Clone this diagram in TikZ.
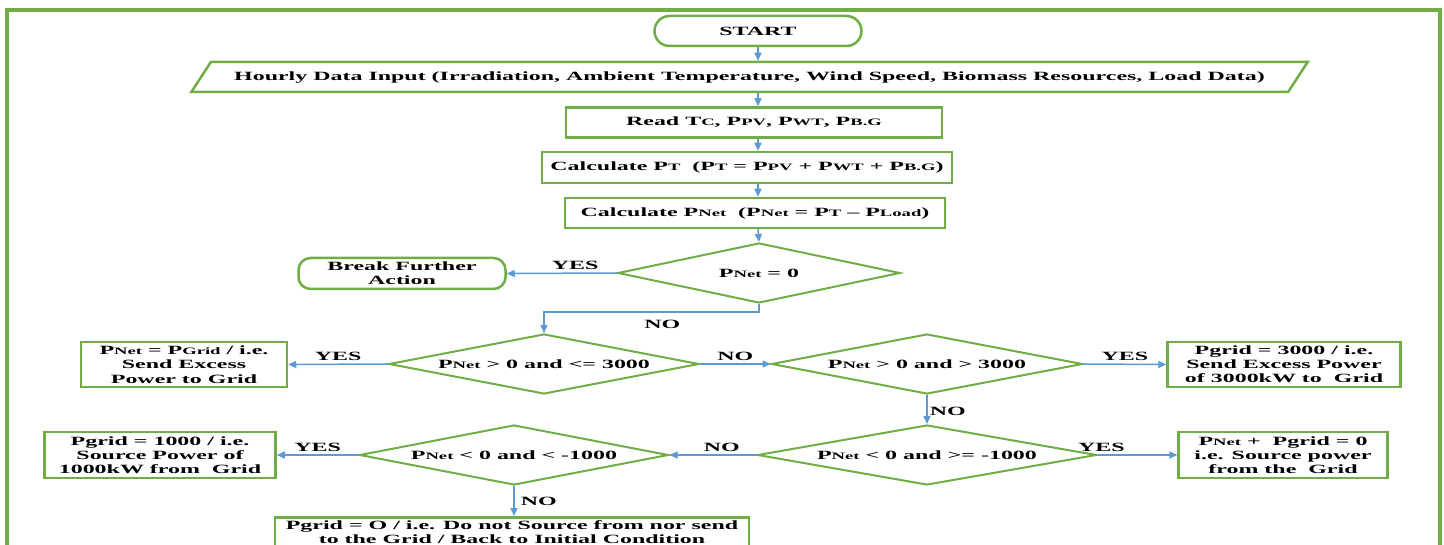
\documentclass[tikz,border=0pt]{standalone}
\usepackage{fontspec}
\setmainfont[FakeStretch=1.9]{Liberation Serif}
\usetikzlibrary{shapes.geometric,arrows.meta}
\definecolor{gr}{RGB}{112,173,71}
\definecolor{bl}{RGB}{91,155,213}
\newcommand\sml[1]{{\fontsize{9.8}{10}\selectfont #1}}
\tikzset{
  every node/.style={font=\fontsize{12.6}{14.2}\selectfont\bfseries, align=center},
  box/.style={draw=gr, line width=2.5pt, rectangle, inner sep=0pt},
  term/.style={draw=gr, line width=2.5pt, rectangle, rounded corners=15pt, inner sep=0pt},
  dia/.style={draw=gr, line width=2pt, diamond, inner sep=0pt},
  arr/.style={draw=bl, line width=1.5pt, -{Triangle[length=8pt,width=7pt]}},
  lbl/.style={inner sep=0pt}
}
\begin{document}
\begin{tikzpicture}[x=1pt,y=-1pt]
\path[use as bounding box, clip] (0,0) rectangle (1444,545);
\draw[gr, line width=3.5pt] (7,10) rectangle (1440,570);
\coordinate (col) at (758,0);
\node[term, minimum width=207, minimum height=30] (start) at (758,31) {START};
\node[draw=gr, line width=2.5pt, trapezium, trapezium stretches=true, trapezium left angle=31.5, trapezium right angle=148.5, minimum width=1123, minimum height=30, inner sep=0pt] (inp) at (749.5,77) {Hourly Data Input (Irradiation, Ambient Temperature, Wind Speed, Biomass Resources, Load Data)};
\node[box, minimum width=376, minimum height=30] (read) at (754,122.5) {Read T\sml{C}, P\sml{PV}, P\sml{WT}, P\sml{B.G}};
\node[box, minimum width=410, minimum height=31] (calcT) at (747,167.5) {Calculate P\sml{T}~~(P\sml{T} = P\sml{PV} + P\sml{WT} + P\sml{B.G})};
\node[box, minimum width=380, minimum height=30] (calcN) at (755,213) {Calculate P\sml{Net}~~(P\sml{Net} = P\sml{T} -- P\sml{Load})};
\node[dia, minimum width=282, minimum height=60, label=center:{P\sml{Net} = 0}] (d1) at (759,273) {};
\node[term, rounded corners=12pt, minimum width=207, minimum height=31] (brk) at (402,273.5) {Break Further\\Action};
\node[dia, minimum width=310, minimum height=60, label=center:{P\sml{Net} > 0 and <= 3000}] (d2) at (544,364) {};
\node[box, minimum width=206, minimum height=45] (r2) at (184,364.5) {P\sml{Net} = P\sml{Grid} / i.e.\\Send Excess\\Power to Grid};
\node[dia, minimum width=311, minimum height=60, label=center:{P\sml{Net} > 0 and > 3000}] (d3) at (927,364) {};
\node[box, minimum width=233, minimum height=45] (r3) at (1284,364.5) {Pgrid = 3000 / i.e.\\Send Excess Power\\of 3000kW to~~Grid};
\node[dia, minimum width=339, minimum height=60, label=center:{P\sml{Net} < 0 and >= -1000}] (d4) at (927,455) {};
\node[box, minimum width=209, minimum height=46] (r4) at (1283,455) {P\sml{Net} + ~Pgrid = 0\\i.e. Source power\\from the~~Grid};
\node[dia, minimum width=309, minimum height=60, label=center:{P\sml{Net} < 0 and < -1000}] (d5) at (514,455) {};
\node[box, minimum width=231, minimum height=46] (r5) at (160,455) {Pgrid = 1000 / i.e.\\Source Power of\\1000kW from~~Grid};
\node[box, minimum width=474, minimum height=30, anchor=north, inner ysep=2pt] (fin) at (512,516) {Pgrid = O / i.e. Do not Source from nor send\\to the Grid / Back to Initial Condition};

\draw[arr] (start.south -| col) -- (inp.north -| col);
\draw[arr] (inp.south -| col) -- (read.north -| col);
\draw[arr] (read.south -| col) -- (calcT.north -| col);
\draw[arr] (calcT.south -| col) -- (calcN.north -| col);
\draw[arr] (calcN.south -| col) -- (d1.north);
\draw[arr] (d1.west) -- node[lbl, above=3pt, pos=0.38] (yes1) {YES} (brk.east);
\draw[arr] (d1.south) -- (d1.south |- 0,312) -- node[lbl, below=7pt, pos=0.45] (no1) {NO} (d2.north |- 0,312) -- (d2.north);
\draw[arr] (d2.west) -- node[lbl, above=3pt] (yes2) {YES} (r2.east);
\draw[arr] (d2.east) -- node[lbl, above=3pt] (no2) {NO} (d3.west);
\draw[arr] (d3.east) -- node[lbl, above=3pt] (yes3) {YES} (r3.west);
\draw[arr] (d3.south) -- node[lbl, right=2pt, pos=0.55] (no3) {NO} (d4.north);
\draw[arr] (d4.east) -- node[lbl, above=3pt, pos=0.05] (yes4) {YES} (r4.west);
\draw[arr] (d4.west) -- node[lbl, above=3pt, pos=0.4] (no4) {NO} (d5.east);
\draw[arr] (d5.west) -- node[lbl, above=3pt] (yes5) {YES} (r5.east);
\draw[arr] (d5.south) -- node[lbl, right=6pt, pos=0.5] (no5) {NO} (d5.south |- fin.north);
\end{tikzpicture}
\end{document}
